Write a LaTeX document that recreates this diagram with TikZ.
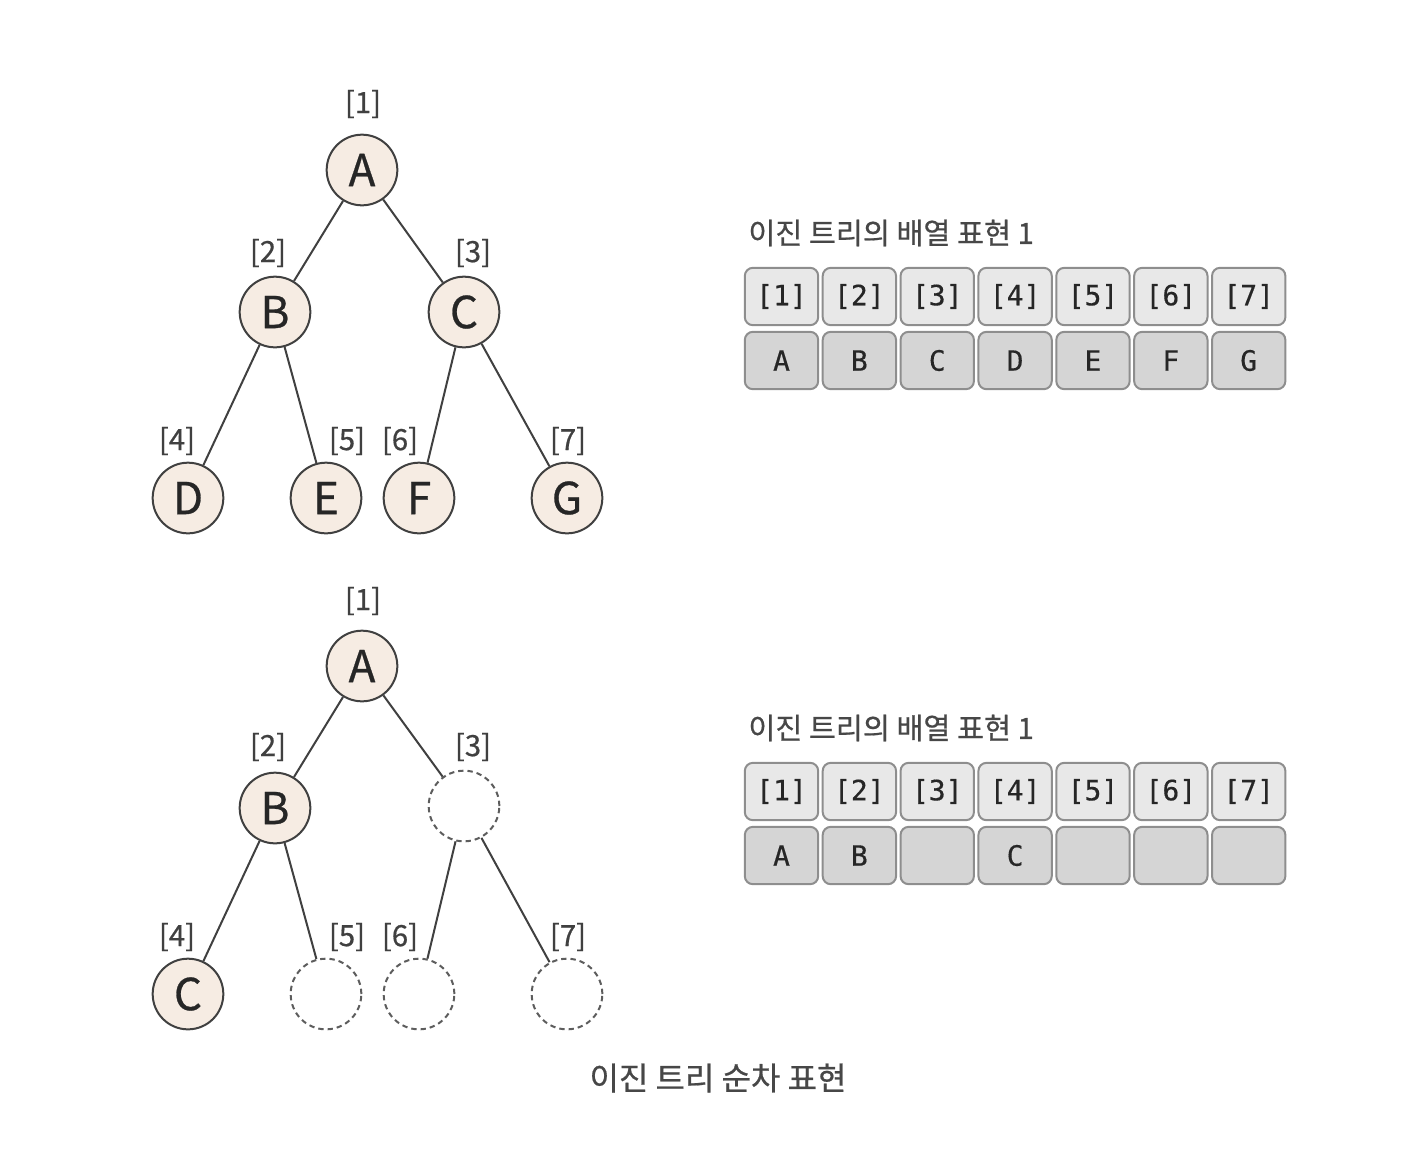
\documentclass[tikz,border=0pt]{standalone}
\usepackage{fontspec}
\setmainfont{Noto Sans CJK KR}[FakeBold=0.6]
\setmonofont{DejaVu Sans Mono}[FakeBold=0.4]
\usepackage{tikz}
\usetikzlibrary{arrows, automata, positioning}

\definecolor{nodefill}{HTML}{F6ECE3}
\definecolor{lineclr}{HTML}{404040}
\definecolor{idxfill}{HTML}{E8E8E8}
\definecolor{valfill}{HTML}{D5D5D5}
\definecolor{cellline}{HTML}{8E8E8E}

\begin{document}
\begin{tikzpicture}[
            x = 0.75pt, y = -0.75pt, % pixel grid, y going down
            node distance = 58.4pt, % pitch of the array cells
            semithick % line style
        ]

        \useasboundingbox (0,0) rectangle (1408,1150);

        \tikzstyle{every state}=[
            draw = lineclr,
            line width = 1.5pt,
            fill = nodefill,
            minimum size = 53pt,
            inner sep = 0pt,
            text = black!85,
            font = \fontsize{33}{33}\selectfont
        ]
        \tikzstyle{hole}=[dash pattern = on 4pt off 3pt, fill = white, draw = lineclr!85]
        \tikzstyle{idx}=[text = lineclr, inner sep = 0pt, font = \fontsize{22}{22}\selectfont]
        \tikzstyle{tree}=[draw = lineclr, line width = 1.5pt]
        \tikzstyle{cell}=[
            draw = cellline,
            line width = 1.5pt,
            rounded corners = 6pt,
            minimum width = 55pt,
            minimum height = 43pt,
            inner sep = 0pt,
            text = black!85,
            font = \ttfamily\fontsize{21}{21}\selectfont
        ]
        \tikzstyle{head}=[cell, fill = idxfill]
        \tikzstyle{val}=[cell, fill = valfill, node distance = 48pt]
        \tikzstyle{title}=[anchor = west, inner sep = 0pt, text = black!72, font = \fontsize{22}{22}\selectfont]

        % first tree
        \node[state] (a1) at (362,170) {A};
        \node[state] (b1) at (275,312) {B};
        \node[state] (c1) at (464,312) {C};
        \node[state] (d1) at (188,498) {D};
        \node[state] (e1) at (326,498) {E};
        \node[state] (f1) at (419,498) {F};
        \node[state] (g1) at (567,498) {G};

        \node[idx] (k11) at (363,104) {[1]};
        \node[idx] (k12) at (268,253) {[2]};
        \node[idx] (k13) at (473,253) {[3]};
        \node[idx] (k14) at (177,441) {[4]};
        \node[idx] (k15) at (347,441) {[5]};
        \node[idx] (k16) at (400,441) {[6]};
        \node[idx] (k17) at (568,441) {[7]};

        \path[tree] (a1) edge (b1);
        \path[tree] (a1) edge (c1);
        \path[tree] (b1) edge (d1);
        \path[tree] (b1) edge (e1);
        \path[tree] (c1) edge (f1);
        \path[tree] (c1) edge (g1);

        % second tree
        \node[state] (a2) at (362,666) {A};
        \node[state] (b2) at (275,808) {B};
        \node[state, hole] (n3) at (464,806) {};
        \node[state] (c2) at (188,994) {C};
        \node[state, hole] (n5) at (326,994) {};
        \node[state, hole] (n6) at (419,994) {};
        \node[state, hole] (n7) at (567,994) {};

        \node[idx] (k21) at (363,601) {[1]};
        \node[idx] (k22) at (268,747) {[2]};
        \node[idx] (k23) at (473,747) {[3]};
        \node[idx] (k24) at (177,937) {[4]};
        \node[idx] (k25) at (347,937) {[5]};
        \node[idx] (k26) at (400,937) {[6]};
        \node[idx] (k27) at (568,937) {[7]};

        \path[tree] (a2) edge (b2);
        \path[tree] (a2) edge (n3);
        \path[tree] (b2) edge (c2);
        \path[tree] (b2) edge (n5);
        \path[tree] (n3) edge (n6);
        \path[tree] (n3) edge (n7);

        % first array
        \node[title] (t1) at (748,233) {이진 트리의 배열 표현 1};
        \node[head] (h11) at (781.5,296.5) {[1]};
        \node[head] (h12) [right of=h11] {[2]};
        \node[head] (h13) [right of=h12] {[3]};
        \node[head] (h14) [right of=h13] {[4]};
        \node[head] (h15) [right of=h14] {[5]};
        \node[head] (h16) [right of=h15] {[6]};
        \node[head] (h17) [right of=h16] {[7]};
        \node[val] (v11) [below of=h11] {A};
        \node[val] (v12) [below of=h12] {B};
        \node[val] (v13) [below of=h13] {C};
        \node[val] (v14) [below of=h14] {D};
        \node[val] (v15) [below of=h15] {E};
        \node[val] (v16) [below of=h16] {F};
        \node[val] (v17) [below of=h17] {G};

        % second array
        \node[title] (t2) at (748,728) {이진 트리의 배열 표현 1};
        \node[head] (h21) at (781.5,791.5) {[1]};
        \node[head] (h22) [right of=h21] {[2]};
        \node[head] (h23) [right of=h22] {[3]};
        \node[head] (h24) [right of=h23] {[4]};
        \node[head] (h25) [right of=h24] {[5]};
        \node[head] (h26) [right of=h25] {[6]};
        \node[head] (h27) [right of=h26] {[7]};
        \node[val] (v21) [below of=h21] {A};
        \node[val] (v22) [below of=h22] {B};
        \node[val] (v23) [below of=h23] {};
        \node[val] (v24) [below of=h24] {C};
        \node[val] (v25) [below of=h25] {};
        \node[val] (v26) [below of=h26] {};
        \node[val] (v27) [below of=h27] {};

        \node[title, anchor = center, font = \fontsize{24}{24}\selectfont] (cap) at (718,1078) {이진 트리 순차 표현};

  \end{tikzpicture}
\end{document}
